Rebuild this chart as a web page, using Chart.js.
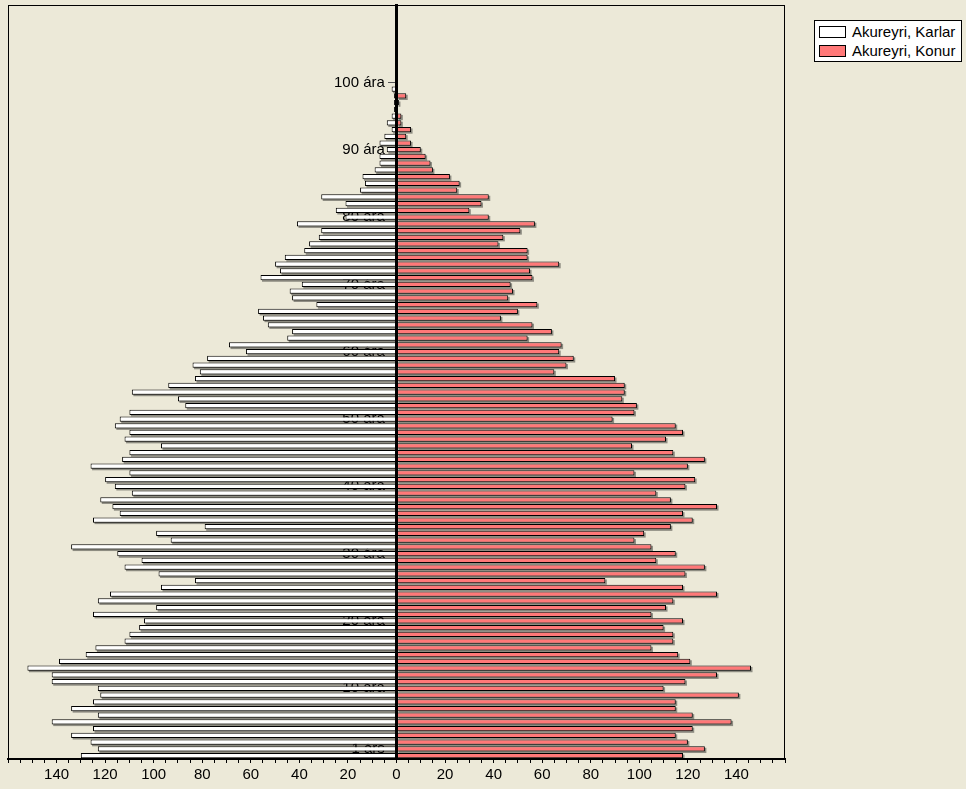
<!DOCTYPE html>
<html>
<head>
<meta charset="utf-8">
<script src="https://cdn.jsdelivr.net/npm/chart.js@4.4.1/dist/chart.umd.min.js"></script>
<style>
  html, body { margin: 0; padding: 0; background: #ECE9D8; }
  #wrap { position: relative; width: 966px; height: 789px; }
  #legend {
    position: absolute; left: 814px; top: 20px; width: 146px; padding: 1px 0;
    background: #fff; border: 1px solid #000;
    font: 15px "Liberation Sans", Arial, sans-serif; color: #000;
  }
  .item { display: flex; align-items: center; height: 19px; padding-left: 4px; white-space: nowrap; }
  .swatch { width: 25px; height: 10px; border: 1px solid #000; margin-right: 6px; }
</style>
</head>
<body>
<div id="wrap">
  <canvas id="chart" width="966" height="789"></canvas>
  <div id="legend"></div>
</div>
<script>
// Mannfjöldi á Akureyri eftir aldri (0-99 ára), lesið af myndinni
const KARLAR = [
  130, 123, 126, 134, 125, 142, 123, 134, 125, 122,
  123, 142, 142, 152, 139, 128, 124, 112, 110, 106,
  104, 125, 99, 123, 118, 97, 83, 98, 112, 105,
  115, 134, 93, 99, 79, 125, 114, 117, 122, 109,
  116, 120, 110, 126, 113, 110, 97, 112, 110, 116,
  114, 110, 87, 90, 109, 94, 83, 81, 84, 78,
  62, 69, 45, 43, 53, 55, 57, 33, 43, 44,
  39, 56, 48, 50, 46, 38, 36, 32, 31, 41,
  21, 25, 21, 31, 15, 13, 14, 9, 7, 7,
  4, 7, 5, 2, 4, 2, 1, 1, 1, 2
];
const KONUR = [
  118, 127, 120, 115, 122, 138, 122, 115, 115, 141,
  110, 119, 132, 146, 121, 116, 105, 114, 114, 110,
  118, 105, 111, 114, 132, 118, 86, 119, 127, 107,
  115, 105, 98, 102, 113, 122, 118, 132, 113, 107,
  119, 123, 98, 120, 127, 114, 97, 111, 118, 115,
  89, 98, 99, 93, 94, 94, 90, 65, 70, 73,
  67, 68, 54, 64, 56, 43, 50, 58, 46, 48,
  47, 56, 55, 67, 54, 54, 42, 44, 51, 57,
  38, 30, 35, 38, 25, 26, 22, 15, 14, 12,
  10, 6, 4, 6, 2, 2, 0, 1, 4, 0
];

// aldursflokkar 0..111 (efstu flokkarnir eru tómir)
const AGES = Array.from({ length: 112 }, (_, i) => String(i));

const TICK_AGES = [1, 10, 20, 30, 40, 50, 60, 70, 80, 90, 100];
const TICK_TEXT = ["1 árs", "10 ára", "20 ára", "30 ára", "40 ára", "50 ára",
  "60 ára", "70 ára", "80 ára", "90 ára", "100 ára"];

const X_MAX = 160;

Chart.defaults.font.family = '"Liberation Sans", Arial, sans-serif';
Chart.defaults.font.size = 15;
Chart.defaults.color = "#000";

// grár skuggi undir súlunum
const barShadow = {
  id: "barShadow",
  beforeDatasetsDraw(chart) {
    const ctx = chart.ctx;
    ctx.save();
    ctx.fillStyle = "rgba(0,0,0,0.4)";
    chart.data.datasets.forEach((ds, i) => {
      chart.getDatasetMeta(i).data.forEach((bar) => {
        const { x, y, base, height } = bar.getProps(["x", "y", "base", "height"], true);
        const w = Math.abs(x - base);
        if (w > 0) ctx.fillRect(Math.min(x, base) + 1.5, y - height / 2 + 1.5, w, height);
      });
    });
    ctx.restore();
  },
};

// rammi utan um teiknisvæðið
const plotFrame = {
  id: "plotFrame",
  beforeDatasetsDraw(chart) {
    const { ctx, chartArea: a } = chart;
    ctx.save();
    ctx.strokeStyle = "#000";
    ctx.lineWidth = 1;
    ctx.strokeRect(a.left + 0.5, a.top + 0.5, a.right - a.left - 1, a.bottom - a.top - 1);
    ctx.restore();
  },
};

const chart = new Chart(document.getElementById("chart"), {
  type: "bar",
  data: {
    labels: AGES,
    datasets: [
      {
        label: "Akureyri, Karlar",
        data: KARLAR.map((v) => -v),
        backgroundColor: "#FFFFFF",
        borderColor: "#000000",
        borderWidth: 1,
      },
      {
        label: "Akureyri, Konur",
        data: KONUR,
        backgroundColor: "#FF7878",
        borderColor: "#000000",
        borderWidth: 1,
      },
    ],
  },
  options: {
    indexAxis: "y",
    responsive: false,
    animation: false,
    barPercentage: 0.78,
    categoryPercentage: 1,
    layout: { padding: { left: 8, right: 181, top: 5, bottom: 2 } },
    plugins: {
      legend: { display: false },
      tooltip: { enabled: false },
    },
    scales: {
      x: {
        type: "linear",
        stacked: true,
        min: -X_MAX,
        max: X_MAX,
        grid: { drawOnChartArea: false, drawTicks: true, tickLength: 4, color: "#000" },
        border: { display: true, color: "#000", width: 2 },
        ticks: {
          stepSize: 5,
          autoSkip: false,
          maxRotation: 0,
          padding: 3,
          callback: (v) => (v % 20 === 0 && Math.abs(v) < X_MAX ? String(Math.abs(v)) : ""),
        },
      },
      y: {
        type: "category",
        position: { x: 0 },
        reverse: true,
        stacked: true,
        grid: { offset: false, drawOnChartArea: false, drawTicks: true, tickLength: 7, color: "#555" },
        border: { display: true, color: "#000", width: 3, z: 1 },
        ticks: {
          autoSkip: false,
          padding: 0,
          // bil aftan við textann svo hann endi vinstra megin við strikið
          callback: (value, index) => {
            const k = TICK_AGES.indexOf(index);
            return k >= 0 ? TICK_TEXT[k] + "\u2002 " : null;
          },
        },
        afterFit: (scale) => {
          scale.paddingTop = 0;
          scale.paddingBottom = 0;
        },
      },
    },
  },
  plugins: [plotFrame, barShadow],
});

// skýringar (legend) út frá gagnaröðunum
const legendEl = document.getElementById("legend");
chart.data.datasets.forEach((ds) => {
  const item = document.createElement("div");
  item.className = "item";
  const sw = document.createElement("span");
  sw.className = "swatch";
  sw.style.background = ds.backgroundColor;
  const txt = document.createElement("span");
  txt.textContent = ds.label;
  item.appendChild(sw);
  item.appendChild(txt);
  legendEl.appendChild(item);
});
</script>
</body>
</html>
